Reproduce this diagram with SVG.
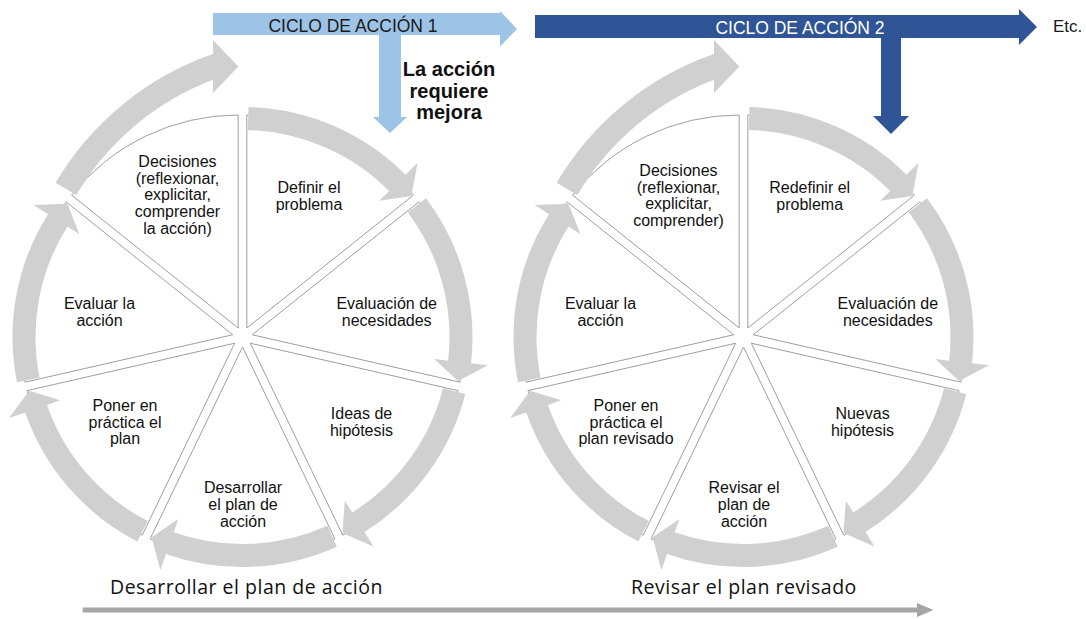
<svg xmlns="http://www.w3.org/2000/svg" width="1086" height="619" viewBox="0 0 1086 619">
  <style>
    .seg { fill: #ffffff; stroke: #9e9e9e; stroke-width: 1; }
    .ring { fill: #d0d0d0; stroke: none; }
    .lbl { font-family: "Liberation Sans", Arial, sans-serif; font-size: 16px; fill: #111111; text-anchor: middle; }
    .phase { font-family: "Open Sans", "Liberation Sans", sans-serif; font-size: 19.5px; letter-spacing: 0.5px; fill: #111111; }
    .banner { font-family: "Liberation Sans", Arial, sans-serif; font-size: 17.5px; text-anchor: middle; }
    .note { font-family: "Liberation Sans", Arial, sans-serif; font-size: 20px; font-weight: bold; fill: #111111; text-anchor: middle; }
  </style>
  <rect x="0" y="0" width="1086" height="619" fill="#ffffff"/>

  <!-- Cycle 1 segments -->
  <g id="c1-decisiones">
    <path class="seg" d="M238.16,327.99 L71.63,195.19 A213,213 0 0 1 238.16,114.99 Z"/>
    <text class="lbl" x="177.5" y="167"><tspan x="177.5">Decisiones</tspan><tspan x="177.5" dy="16.7">(reflexionar,</tspan><tspan x="177.5" dy="16.7">explicitar,</tspan><tspan x="177.5" dy="16.7">comprender</tspan><tspan x="177.5" dy="16.7">la acción)</tspan></text>
  </g>
  <g id="c1-definir">
    <path class="seg" d="M246.84,327.99 L246.84,114.99 A213,213 0 0 1 413.37,195.19 Z"/>
    <text class="lbl" x="309" y="193.3"><tspan x="309">Definir el</tspan><tspan x="309" dy="16.7">problema</tspan></text>
  </g>
  <g id="c1-necesidades">
    <path class="seg" d="M252.25,334.78 L418.78,201.97 A213,213 0 0 1 459.91,382.17 Z"/>
    <text class="lbl" x="386.7" y="309.3"><tspan x="386.7">Evaluación de</tspan><tspan x="386.7" dy="16.7">necesidades</tspan></text>
  </g>
  <g id="c1-hipotesis">
    <path class="seg" d="M250.32,343.24 L457.98,390.63 A213,213 0 0 1 342.74,535.14 Z"/>
    <text class="lbl" x="361.5" y="419.3"><tspan x="361.5">Ideas de</tspan><tspan x="361.5" dy="16.7">hipótesis</tspan></text>
  </g>
  <g id="c1-desarrollar">
    <path class="seg" d="M242.5,347 L334.92,538.91 A213,213 0 0 1 150.08,538.91 Z"/>
    <text class="lbl" x="243" y="493.3"><tspan x="243">Desarrollar</tspan><tspan x="243" dy="16.7">el plan de</tspan><tspan x="243" dy="16.7">acción</tspan></text>
  </g>
  <g id="c1-poner">
    <path class="seg" d="M234.68,343.24 L142.26,535.14 A213,213 0 0 1 27.02,390.63 Z"/>
    <text class="lbl" x="125" y="411"><tspan x="125">Poner en</tspan><tspan x="125" dy="16.7">práctica el</tspan><tspan x="125" dy="16.7">plan</tspan></text>
  </g>
  <g id="c1-evaluar">
    <path class="seg" d="M232.75,334.78 L25.09,382.17 A213,213 0 0 1 66.22,201.97 Z"/>
    <text class="lbl" x="99.5" y="309.3"><tspan x="99.5">Evaluar la</tspan><tspan x="99.5" dy="16.7">acción</tspan></text>
  </g>

  <!-- Cycle 2 segments -->
  <g id="c2-decisiones">
    <path class="seg" d="M739.16,327.99 L572.63,195.19 A213,213 0 0 1 739.16,114.99 Z"/>
    <text class="lbl" x="678.5" y="176"><tspan x="678.5">Decisiones</tspan><tspan x="678.5" dy="16.7">(reflexionar,</tspan><tspan x="678.5" dy="16.7">explicitar,</tspan><tspan x="678.5" dy="16.7">comprender)</tspan></text>
  </g>
  <g id="c2-redefinir">
    <path class="seg" d="M747.84,327.99 L747.84,114.99 A213,213 0 0 1 914.37,195.19 Z"/>
    <text class="lbl" x="809.7" y="193.3"><tspan x="809.7">Redefinir el</tspan><tspan x="809.7" dy="16.7">problema</tspan></text>
  </g>
  <g id="c2-necesidades">
    <path class="seg" d="M753.25,334.78 L919.78,201.97 A213,213 0 0 1 960.91,382.17 Z"/>
    <text class="lbl" x="887.8" y="309.3"><tspan x="887.8">Evaluación de</tspan><tspan x="887.8" dy="16.7">necesidades</tspan></text>
  </g>
  <g id="c2-hipotesis">
    <path class="seg" d="M751.32,343.24 L958.98,390.63 A213,213 0 0 1 843.74,535.14 Z"/>
    <text class="lbl" x="862.5" y="419.3"><tspan x="862.5">Nuevas</tspan><tspan x="862.5" dy="16.7">hipótesis</tspan></text>
  </g>
  <g id="c2-revisar">
    <path class="seg" d="M743.5,347 L835.92,538.91 A213,213 0 0 1 651.08,538.91 Z"/>
    <text class="lbl" x="744" y="493.3"><tspan x="744">Revisar el</tspan><tspan x="744" dy="16.7">plan de</tspan><tspan x="744" dy="16.7">acción</tspan></text>
  </g>
  <g id="c2-poner">
    <path class="seg" d="M735.68,343.24 L643.26,535.14 A213,213 0 0 1 528.02,390.63 Z"/>
    <text class="lbl" x="626" y="411"><tspan x="626">Poner en</tspan><tspan x="626" dy="16.7">práctica el</tspan><tspan x="626" dy="16.7">plan revisado</tspan></text>
  </g>
  <g id="c2-evaluar">
    <path class="seg" d="M733.75,334.78 L526.09,382.17 A213,213 0 0 1 567.22,201.97 Z"/>
    <text class="lbl" x="600.5" y="309.3"><tspan x="600.5">Evaluar la</tspan><tspan x="600.5" dy="16.7">acción</tspan></text>
  </g>

  <!-- Curved cycle arrows -->
  <g id="connectors">
    <g id="ring-1">
      <path class="ring" d="M55.6,182.8 A294,294 0 0 1 213,54.1 L213,40 L238.3,66.5 L213,93 L213,79.7 A270,270 0 0 0 76.3,195 Z"/>
      <path class="ring" d="M248.52,107.08 A230,230 0 0 1 405.50,174.73 L417.55,162.74 L411.35,195.96 L379.28,200.83 L389.20,190.96 A207,207 0 0 0 247.92,130.07 Z"/>
      <path class="ring" d="M426.01,198.35 A230,230 0 0 1 471.00,363.26 L487.88,365.21 L458.04,381.07 L434.24,359.04 L448.15,360.64 A207,207 0 0 0 407.66,212.22 Z"/>
      <path class="ring" d="M465.32,394.04 A230,230 0 0 1 364.43,532.02 L373.44,546.44 L342.43,533.00 L344.82,500.65 L352.24,512.52 A207,207 0 0 0 443.04,388.33 Z"/>
      <path class="ring" d="M336.83,546.77 A230,230 0 0 1 166.05,553.93 L160.40,569.96 L151.57,537.33 L178.35,519.03 L173.69,532.24 A207,207 0 0 0 327.40,525.79 Z"/>
      <path class="ring" d="M137.32,541.54 A230,230 0 0 1 25.24,412.48 L9.18,418.06 L29.18,390.81 L60.19,400.33 L46.96,404.93 A207,207 0 0 0 147.83,521.09 Z"/>
      <path class="ring" d="M17.00,382.29 A230,230 0 0 1 48.03,214.20 L33.65,205.12 L67.43,203.77 L79.31,233.95 L67.47,226.48 A207,207 0 0 0 39.55,377.76 Z"/>
    </g>
    <g id="ring-2" transform="translate(501 0)">
      <path class="ring" d="M55.6,182.8 A294,294 0 0 1 213,54.1 L213,40 L238.3,66.5 L213,93 L213,79.7 A270,270 0 0 0 76.3,195 Z"/>
      <path class="ring" d="M248.52,107.08 A230,230 0 0 1 405.50,174.73 L417.55,162.74 L411.35,195.96 L379.28,200.83 L389.20,190.96 A207,207 0 0 0 247.92,130.07 Z"/>
      <path class="ring" d="M426.01,198.35 A230,230 0 0 1 471.00,363.26 L487.88,365.21 L458.04,381.07 L434.24,359.04 L448.15,360.64 A207,207 0 0 0 407.66,212.22 Z"/>
      <path class="ring" d="M465.32,394.04 A230,230 0 0 1 364.43,532.02 L373.44,546.44 L342.43,533.00 L344.82,500.65 L352.24,512.52 A207,207 0 0 0 443.04,388.33 Z"/>
      <path class="ring" d="M336.83,546.77 A230,230 0 0 1 166.05,553.93 L160.40,569.96 L151.57,537.33 L178.35,519.03 L173.69,532.24 A207,207 0 0 0 327.40,525.79 Z"/>
      <path class="ring" d="M137.32,541.54 A230,230 0 0 1 25.24,412.48 L9.18,418.06 L29.18,390.81 L60.19,400.33 L46.96,404.93 A207,207 0 0 0 147.83,521.09 Z"/>
      <path class="ring" d="M17.00,382.29 A230,230 0 0 1 48.03,214.20 L33.65,205.12 L67.43,203.77 L79.31,233.95 L67.47,226.48 A207,207 0 0 0 39.55,377.76 Z"/>
    </g>
    <!-- timeline arrow along the bottom -->
    <path id="timeline" fill="#a6a6a6" d="M82.7,607.5 L917,607.5 L917,603 L933.5,610 L917,617 L917,612.5 L82.7,612.5 Z"/>
  </g>

  <!-- Cycle banners -->
  <g id="banner-1">
    <path fill="#9dc3e6" d="M213,13 L500,13 L500,11 L517,29 L500,46.5 L500,35 L401,35 L401,117 L407,117 L390,133 L373,117 L379,117 L379,35 L213,35 Z"/>
    <text class="banner" x="353" y="32" fill="#1a1a1a">CICLO DE ACCIÓN 1</text>
  </g>
  <g id="note-mejora">
    <text class="note" x="449" y="76"><tspan x="449">La acción</tspan><tspan x="449" dy="21.5">requiere</tspan><tspan x="449" dy="21.5">mejora</tspan></text>
  </g>
  <g id="banner-2">
    <path fill="#2f5597" d="M535,15 L1019,15 L1019,9 L1037,27 L1019,45 L1019,38 L901,38 L901,116 L909,116 L891,134 L873,116 L881,116 L881,38 L535,38 Z"/>
    <text class="banner" x="800" y="33.5" fill="#ffffff">CICLO DE ACCIÓN 2</text>
  </g>
  <g id="etc">
    <text x="1053" y="32" font-family="Liberation Sans, Arial, sans-serif" font-size="17" fill="#1a1a1a">Etc.</text>
  </g>

  <!-- Phase captions -->
  <g id="phase-1">
    <text class="phase" x="110" y="594">Desarrollar el plan de acción</text>
  </g>
  <g id="phase-2">
    <text class="phase" x="631" y="594">Revisar el plan revisado</text>
  </g>
</svg>
